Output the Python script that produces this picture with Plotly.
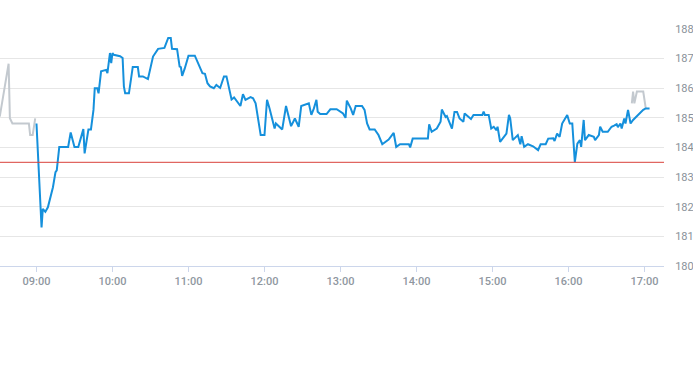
import plotly.graph_objects as go

DAY = "2024-01-02 "

# Regular session (blue)
blue_times = [
    "09:00","09:04","09:05","09:07","09:09","09:13","09:15","09:16","09:18","09:25",
    "09:27","09:30","09:33","09:37","09:38","09:41","09:43","09:45","09:46","09:48",
    "09:49","09:51","09:55","09:56","09:58","09:59","10:00","10:01","10:06","10:08",
    "10:09","10:10","10:13","10:16","10:20","10:21","10:24","10:28","10:32","10:36",
    "10:41","10:44","10:46","10:47","10:51","10:53","10:54","10:55","10:57","11:00",
    "11:05","11:09","11:11","11:13","11:15","11:17","11:20","11:22","11:25","11:28",
    "11:30","11:34","11:36","11:41","11:43","11:45","11:49","11:51","11:53","11:57",
    "12:00","12:02","12:04","12:08","12:09","12:14","12:17","12:21","12:24","12:27",
    "12:29","12:35","12:37","12:39","12:41","12:42","12:44","12:49","12:52","12:57",
    "13:02","13:04","13:05","13:08","13:10","13:12","13:17","13:19","13:21","13:23",
    "13:27","13:30","13:33","13:38","13:42","13:44","13:47","13:54","13:55","13:57",
    "14:09","14:10","14:12","14:16","14:19","14:20","14:23","14:24","14:28","14:30",
    "14:32","14:34","14:37","14:38","14:41","14:43","14:45","14:52","14:53","14:54",
    "14:57","14:59","15:01","15:03","15:04","15:06","15:11","15:13","15:14","15:16",
    "15:20","15:22","15:23","15:25","15:28","15:32","15:36","15:38","15:42","15:44",
    "15:48","15:49","15:51","15:53","15:55","15:59","16:01","16:03","16:05","16:07",
    "16:09","16:10","16:12","16:13","16:16","16:20","16:21","16:24","16:25","16:27",
    "16:31","16:34","16:36","16:38","16:39","16:41","16:42","16:44","16:45","16:47",
    "16:49","16:51","16:59","17:01","17:04",
]
blue_prices = [
    184.81,181.30,181.93,181.83,181.98,182.66,183.17,183.23,184.02,184.02,
    184.51,184.02,184.02,184.62,183.80,184.61,184.61,185.27,186.00,186.00,
    185.83,186.57,186.62,186.51,187.19,186.85,187.19,187.13,187.08,187.02,
    186.06,185.83,185.83,186.72,186.72,186.40,186.40,186.31,187.07,187.33,
    187.36,187.70,187.70,187.33,187.32,186.73,186.71,186.42,186.66,187.10,
    187.10,186.74,186.51,186.49,186.17,186.06,186.00,186.11,186.01,186.40,
    186.40,185.62,185.69,185.40,185.80,185.61,185.70,185.66,185.49,184.42,
    184.42,185.61,185.32,184.64,184.81,184.61,185.40,184.72,184.98,184.70,
    185.40,185.49,185.10,185.32,185.61,185.21,185.13,185.13,185.29,185.29,
    185.15,185.00,185.58,185.33,185.10,185.40,185.40,185.27,184.81,184.61,
    184.61,184.42,184.11,184.27,184.49,184.02,184.11,184.11,184.00,184.30,
    184.30,184.78,184.53,184.64,184.87,185.28,185.03,185.06,184.64,185.20,
    185.20,184.98,184.87,185.15,185.04,184.96,185.10,185.10,185.21,185.10,
    185.10,184.64,184.70,184.59,184.70,184.19,184.47,185.10,184.98,184.25,
    184.42,184.11,184.38,184.02,184.11,184.04,183.91,184.11,184.11,184.30,
    184.31,184.22,184.47,184.36,184.81,185.10,184.81,184.81,183.51,184.13,
    184.25,184.02,184.93,184.25,184.42,184.36,184.25,184.42,184.70,184.53,
    184.53,184.70,184.74,184.79,184.69,184.81,184.64,184.98,184.81,185.27,
    184.81,184.93,185.27,185.32,185.32,
]

# Extended hours (gray)
pre_times = ["08:31","08:38","08:39","08:41","08:54","08:55","08:57","08:59"]
pre_prices = [185.04,186.83,184.99,184.81,184.81,184.42,184.42,184.98]
post_times = ["16:50","16:51","16:52","16:54","16:59","17:01"]
post_prices = [185.49,185.89,185.49,185.89,185.89,185.32]

prev_close = 183.5
y_ticks = [180,181,182,183,184,185,186,187,188]
x_ticks = ["09:00","10:00","11:00","12:00","13:00","14:00","15:00","16:00","17:00"]

assert len(blue_times) == len(blue_prices)

def ts(lst):
    return [DAY + t for t in lst]

Y_LABEL = dict(family="Roboto, Arial, sans-serif", size=11, color="#8a929a")
X_LABEL = dict(family="Roboto, Arial, sans-serif", size=11, color="#8f979f", weight=500)

fig = go.Figure()
fig.add_trace(go.Scatter(x=ts(pre_times), y=pre_prices, mode="lines",
                         line=dict(color="#c3c9cf", width=2), hoverinfo="skip"))
fig.add_trace(go.Scatter(x=ts(post_times), y=post_prices, mode="lines",
                         line=dict(color="#c3c9cf", width=2), hoverinfo="skip"))
fig.add_trace(go.Scatter(x=ts(blue_times), y=blue_prices, mode="lines",
                         line=dict(color="#1590dc", width=2)))

fig.add_shape(type="line", xref="paper", x0=0, x1=1, yref="y",
              y0=prev_close, y1=prev_close, line=dict(color="#d9403a", width=1))

fig.update_layout(
    width=693, height=365,
    margin=dict(l=0, r=29, t=29, b=99, autoexpand=False),
    paper_bgcolor="white", plot_bgcolor="white",
    showlegend=False,
    xaxis=dict(
        type="date",
        range=[DAY + "08:31:12", DAY + "17:15:24"],
        tickvals=ts(x_ticks), ticktext=x_ticks,
        showgrid=False, zeroline=False,
        showline=True, linecolor="#ccd6eb", linewidth=1,
        ticks="outside", ticklen=5, tickcolor="#ccd6eb",
        tickfont=X_LABEL, automargin=False,
    ),
    yaxis=dict(
        side="right", range=[180, 188],
        tickvals=y_ticks, ticktext=[str(v) for v in y_ticks],
        showgrid=True, gridcolor="#e6e6e6", gridwidth=1,
        zeroline=False, showline=False,
        ticks="outside", ticklen=8, tickcolor="rgba(0,0,0,0)",
        tickfont=Y_LABEL, automargin=False,
    ),
)

fig.write_html("out.html", config={"displayModeBar": False},
               post_script="document.body.style.margin='0';")
